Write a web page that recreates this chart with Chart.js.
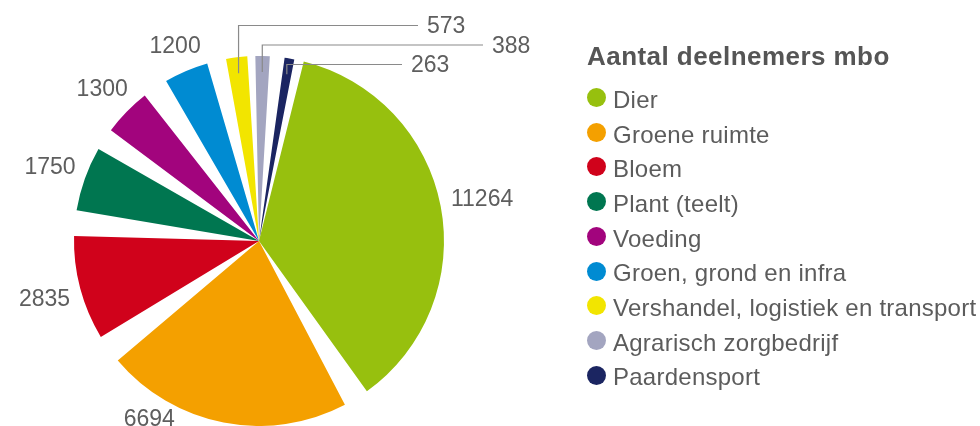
<!DOCTYPE html>
<html>
<head>
<meta charset="utf-8">
<script src="https://cdn.jsdelivr.net/npm/chart.js@4.4.1/dist/chart.umd.min.js"></script>
<style>
  html, body { margin: 0; padding: 0; background: #ffffff; width: 980px; height: 426px; overflow: hidden;
    font-family: "Liberation Sans", Arial, Helvetica, sans-serif; }
  #wrap { position: absolute; left: 0; top: 0; width: 560px; height: 426px; }
  #legend { position: absolute; left: 0; top: 0; width: 980px; height: 426px; pointer-events: none; }
  .lg-title { position: absolute; font-weight: bold; font-size: 26px; line-height: 26px; color: #555555;
    white-space: nowrap; letter-spacing: 0.45px; }
  .lg-dot { position: absolute; width: 19px; height: 19px; border-radius: 50%; }
  .lg-text { position: absolute; font-size: 24px; line-height: 24px; color: #5c5c5c; white-space: nowrap;
    letter-spacing: 0.25px; }
</style>
</head>
<body>
<div id="wrap"><canvas id="chart"></canvas></div>
<div id="legend"></div>
<script>
// ---- data ----
const legendTitle = 'Aantal deelnemers mbo';
const categories = ['Dier', 'Groene ruimte', 'Bloem', 'Plant (teelt)', 'Voeding',
  'Groen, grond en infra', 'Vershandel, logistiek en transport', 'Agrarisch zorgbedrijf', 'Paardensport'];
const values = [11264, 6694, 2835, 1750, 1300, 1200, 573, 388, 263];
const colors = ['#97c00e', '#f4a000', '#d0021b', '#007650', '#a2047d', '#008bd2', '#f2e500', '#a3a5c0', '#1b2561'];

// ---- style ----
const START_DEG = 14;                                 // where the first slice begins (clockwise from top)
const GAP_DEG = [8, 9, 8, 7, 8, 6, 2.5, 4.6, 3];      // white separator after each slice, in degrees
const LABEL_FONT = '23px "Liberation Sans", Arial, sans-serif';
const LABEL_COLOR = '#5e5e5e';
const LINE_COLOR = '#8a8a8a';
const SMALL_FRACTION = 0.03;
const CALLOUT_END_DX = [159, 224, 143];

const total = values.reduce((a, b) => a + b, 0);
const gapTotal = GAP_DEG.reduce((a, b) => a + b, 0);
const pieData = [], pieColors = [];
values.forEach((v, i) => {
  pieData.push(v); pieColors.push(colors[i]);
  pieData.push(total * GAP_DEG[i] / (360 - gapTotal)); pieColors.push('rgba(0,0,0,0)');
});

const labelPlugin = {
  id: 'outLabels',
  afterDatasetsDraw(chart) {
    const ctx = chart.ctx;
    const meta = chart.getDatasetMeta(0);
    const H = chart.height;
    ctx.save();
    ctx.font = LABEL_FONT;
    ctx.fillStyle = LABEL_COLOR;
    let j = 0;
    values.forEach((v, i) => {
      const arc = meta.data[2 * i];
      const p = arc.getProps(['x', 'y', 'startAngle', 'endAngle', 'outerRadius'], true);
      const mid = (p.startAngle + p.endAngle) / 2;
      const c = Math.cos(mid), s = Math.sin(mid);
      const r = p.outerRadius;
      const txt = String(v);
      if (v / total < SMALL_FRACTION) {
        const px = p.x + (r - 16) * c, py = p.y + (r - 16) * s;
        const ly = p.y - r - 30.5 + j * 19.5;
        const ex = p.x + CALLOUT_END_DX[j];
        ctx.strokeStyle = LINE_COLOR; ctx.lineWidth = 1.2;
        ctx.beginPath(); ctx.moveTo(px, py); ctx.lineTo(px, ly); ctx.lineTo(ex, ly); ctx.stroke();
        ctx.textAlign = 'left'; ctx.textBaseline = 'middle';
        ctx.fillText(txt, ex + 9, ly + 1.5);
        j++;
      } else {
        const w = ctx.measureText(txt).width, h = 17;
        const R = r + 10 + Math.abs(c) * w / 2 + Math.abs(s) * h / 2;
        let tx = p.x + R * c, ty = p.y + R * s;
        if (ty > H - 8) {
          ty = H - 8;
          const dy = ty - p.y;
          tx = p.x + Math.sign(c) * Math.sqrt(Math.max(R * R - dy * dy, 0));
        }
        ctx.textAlign = 'center'; ctx.textBaseline = 'middle';
        ctx.fillText(txt, tx, ty + 1.5);
      }
    });
    ctx.restore();
  }
};

new Chart(document.getElementById('chart'), {
  type: 'pie',
  data: {
    labels: pieData.map((_, k) => (k % 2 === 0 ? categories[k / 2] : '')),
    datasets: [{ data: pieData, backgroundColor: pieColors, borderWidth: 0, hoverOffset: 0, offset: 0 }]
  },
  options: {
    responsive: true,
    maintainAspectRatio: false,
    animation: false,
    rotation: START_DEG,
    layout: { padding: { top: 56, bottom: 0, left: 0, right: 42 } },
    plugins: { legend: { display: false }, tooltip: { enabled: false } },
    events: []
  },
  plugins: [labelPlugin]
});

// ---- legend (HTML) ----
const LEGEND_X = 587, TITLE_TOP = 43, FIRST_ROW = 97.5, ROW_STEP = 34.7;
const leg = document.getElementById('legend');
const t = document.createElement('div');
t.className = 'lg-title'; t.textContent = legendTitle;
t.style.left = LEGEND_X + 'px'; t.style.top = TITLE_TOP + 'px';
leg.appendChild(t);
categories.forEach((name, i) => {
  const cy = FIRST_ROW + i * ROW_STEP;
  const d = document.createElement('div');
  d.className = 'lg-dot'; d.style.background = colors[i];
  d.style.left = LEGEND_X + 'px'; d.style.top = (cy - 9.5) + 'px';
  leg.appendChild(d);
  const s = document.createElement('div');
  s.className = 'lg-text'; s.textContent = name;
  s.style.left = (LEGEND_X + 26) + 'px'; s.style.top = (cy - 9.7) + 'px';
  leg.appendChild(s);
});
</script>
</body>
</html>
